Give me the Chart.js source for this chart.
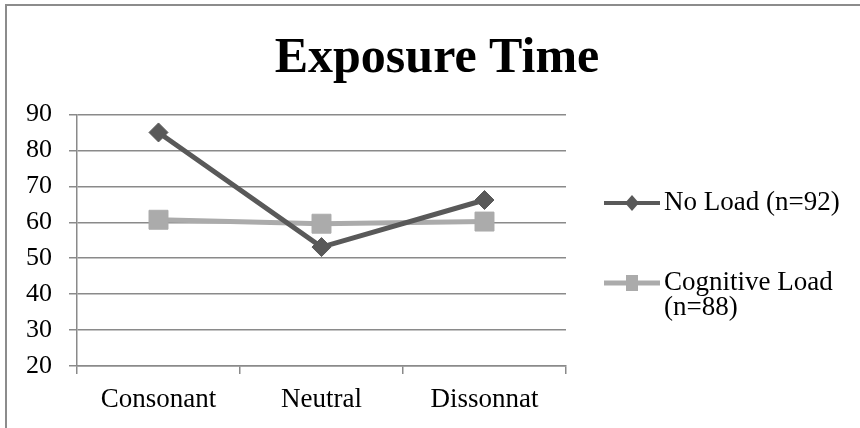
<!DOCTYPE html>
<html>
<head>
<meta charset="utf-8">
<title>Exposure Time</title>
<script src="https://cdn.jsdelivr.net/npm/chart.js@4/dist/chart.umd.min.js"></script>
<style>
  html, body { margin: 0; padding: 0; background: #ffffff; }
  #wrap { width: 860px; height: 428px; }
</style>
</head>
<body>
<div id="wrap"><canvas id="chart" width="860" height="428"></canvas></div>
<script>
// Mean exposure time per stimulus type, by load condition
const categories = ['Consonant', 'Neutral', 'Dissonnat'];
const noLoad = [85, 53.1, 66.2];
const cognitiveLoad = [60.7, 59.6, 60.2];
const seriesLabels = ['No Load (n=92)', 'Cognitive Load (n=88)'];
const yTicks = [20, 30, 40, 50, 60, 70, 80, 90];

const SERIF = '"Liberation Serif", "Times New Roman", serif';
const GRID = '#8a8a8a';
const DARK = '#595959';
const LIGHT = '#ababab';

// Outer frame and centred title
const framePlugin = {
  id: 'frame',
  beforeDraw(chart) {
    const ctx = chart.ctx;
    ctx.save();
    ctx.fillStyle = '#ffffff';
    ctx.fillRect(0, 0, chart.width, chart.height);
    ctx.strokeStyle = '#8c8c8c';
    ctx.lineWidth = 2;
    ctx.strokeRect(6, 5, chart.width + 20, chart.height + 20);
    ctx.restore();
  },
  afterDraw(chart) {
    const ctx = chart.ctx;
    ctx.save();
    ctx.fillStyle = '#000000';
    ctx.font = 'bold 50px ' + SERIF;
    ctx.textAlign = 'center';
    ctx.textBaseline = 'alphabetic';
    ctx.fillText('Exposure Time', 437, 72);
    ctx.restore();
  }
};

// Legend on the right: line segment with marker, wrapped label
const sideLegend = {
  id: 'sideLegend',
  afterDraw(chart) {
    const ctx = chart.ctx;
    const x0 = 604, x1 = 660, tx = 664, maxW = 190, lh = 25;
    const rows = [203, 283];
    chart.data.datasets.forEach((ds, i) => {
      const y = rows[i];
      ctx.save();
      ctx.strokeStyle = ds.borderColor;
      ctx.lineWidth = i === 0 ? 4 : 5;
      ctx.beginPath();
      ctx.moveTo(x0, y);
      ctx.lineTo(x1, y);
      ctx.stroke();
      ctx.fillStyle = ds.borderColor;
      const cx = (x0 + x1) / 2;
      ctx.beginPath();
      if (ds.pointStyle === 'rectRot') {
        ctx.moveTo(cx - 7, y);
        ctx.lineTo(cx, y - 8);
        ctx.lineTo(cx + 7, y);
        ctx.lineTo(cx, y + 8);
        ctx.closePath();
      } else {
        ctx.rect(cx - 6, y - 8, 12, 16);
      }
      ctx.fill();
      // label text, wrapped by width
      ctx.fillStyle = '#000000';
      ctx.font = '27px ' + SERIF;
      ctx.textAlign = 'left';
      ctx.textBaseline = 'middle';
      const words = ds.label.split(' ');
      const lines = [];
      let cur = '';
      words.forEach(w => {
        const test = cur ? cur + ' ' + w : w;
        if (ctx.measureText(test).width > maxW && cur) { lines.push(cur); cur = w; }
        else cur = test;
      });
      if (cur) lines.push(cur);
      lines.forEach((ln, k) => ctx.fillText(ln, tx, y + k * lh));
      ctx.restore();
    });
  }
};

new Chart(document.getElementById('chart'), {
  type: 'line',
  data: {
    labels: categories,
    datasets: [
      {
        label: seriesLabels[0],
        data: noLoad,
        borderColor: DARK,
        backgroundColor: DARK,
        borderWidth: 5,
        pointStyle: 'rectRot',
        pointRadius: 9.5,
        pointBorderWidth: 1,
        pointBackgroundColor: DARK,
        pointBorderColor: DARK,
        tension: 0
      },
      {
        label: seriesLabels[1],
        data: cognitiveLoad,
        borderColor: LIGHT,
        backgroundColor: LIGHT,
        borderWidth: 5,
        pointStyle: 'rect',
        pointRadius: 13.4,
        pointBorderWidth: 1,
        pointBackgroundColor: LIGHT,
        pointBorderColor: LIGHT,
        tension: 0
      }
    ]
  },
  options: {
    responsive: false,
    animation: false,
    devicePixelRatio: 1,
    layout: { padding: { top: 114.5, right: 294, bottom: 0, left: 0 } },
    plugins: {
      legend: { display: false },
      title: { display: false },
      tooltip: { enabled: false }
    },
    scales: {
      x: {
        offset: true,
        grid: {
          offset: true,
          drawOnChartArea: false,
          drawTicks: true,
          tickLength: 8,
          color: GRID,
          lineWidth: 1.5
        },
        border: { color: GRID, width: 1.5 },
        ticks: {
          color: '#000000',
          font: { family: SERIF, size: 27 },
          padding: 10,
          maxRotation: 0
        },
        afterFit(scale) { scale.height = 62; }
      },
      y: {
        min: 20,
        max: 90,
        afterBuildTicks(scale) { scale.ticks = yTicks.map(v => ({ value: v })); },
        grid: {
          color: GRID,
          lineWidth: 1.5,
          drawTicks: true,
          tickLength: 8
        },
        border: { color: GRID, width: 1.5 },
        ticks: {
          color: '#000000',
          font: { family: SERIF, size: 26 },
          padding: 17
        },
        afterFit(scale) { scale.width = 77; }
      }
    }
  },
  plugins: [framePlugin, sideLegend]
});
</script>
</body>
</html>
